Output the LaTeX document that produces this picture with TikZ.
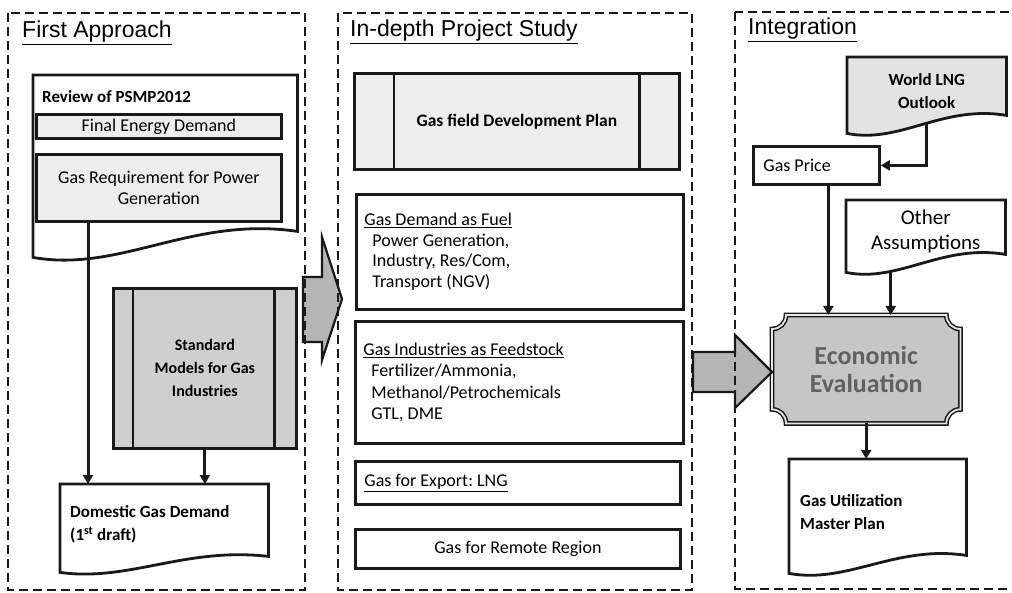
\documentclass[tikz,border=0pt]{standalone}
\usepackage{fontspec}
\setmainfont{Carlito}
\newfontfamily\headfont{Liberation Sans}
\usetikzlibrary{arrows.meta, calc, backgrounds}

\tikzset{
  panel/.style={draw=black!90, line width=2.8pt, dash pattern=on 9pt off 5pt},
  head/.style={anchor=base west, inner sep=0pt, font=\headfont\fontsize{23}{26}\selectfont},
  box/.style={draw=black!90, line width=2.8pt, fill=white, inner xsep=8pt, inner ysep=0pt, font=\fontsize{18}{20.5}\selectfont},
  shade/.style={box, fill=gray!14},
  doc/.style={anchor=north west, inner sep=0pt, font=\bfseries\fontsize{17}{23}\selectfont},
  flow/.style={draw=black!90, line width=3pt, -{Triangle[length=9pt, width=10pt]}},
  bigarrow/.style={draw=black!90, line width=2.2pt, fill=gray!58},
}

\begin{document}
\frenchspacing
\begin{tikzpicture}[x=1pt, y=-1pt]
  \useasboundingbox (0,0) rectangle (1012,593);

  % block arrows between the stages
  \draw[bigarrow] (303,277) -- (322,277) -- (322,237) -- (342,299) -- (322,360) -- (322,342) -- (303,342) -- cycle;
  \draw[bigarrow] (693,352) -- (735,352) -- (735,335) -- (772,372) -- (735,408) -- (735,392) -- (693,392) -- cycle;

  % stage frames
  \draw[panel] (8,13) rectangle (305,590);
  \draw[panel] (338,13) rectangle (692,590);
  \draw[panel] (735,12) rectangle (1016,589);

  \node[head] (t1) at (22,38) {\underline{First Approach}};
  \node[head] (t2) at (350,37) {\underline{In-depth Project Study}};
  \node[head] (t3) at (748,35) {\underline{Integration}};

  % first approach
  \node[anchor=north west, minimum width=264, minimum height=169, inner sep=0pt] (rev) at (33,75) {};
  \node[anchor=west, inner sep=0pt, font=\bfseries\fontsize{17}{20}\selectfont] (revt) at (42,97) {Review of PSMP2012};
  \node[shade, anchor=north west, minimum width=245, minimum height=24] (fed) at (35,113) {Final Energy Demand};
  \node[shade, anchor=north west, minimum width=245, minimum height=67, align=center] (greq) at (35,153) {Gas Requirement for Power\\Generation};
  \node[box, fill=gray!38, anchor=north west, minimum width=183, minimum height=160, align=center, font=\bfseries\fontsize{16}{23}\selectfont] (stdm) at (112,287) {Standard\\Models for Gas\\Industries};
  \draw[draw=black!90, line width=2.8pt] ([xshift=21pt]stdm.north west) -- ([xshift=21pt]stdm.south west);
  \draw[draw=black!90, line width=2.8pt] ([xshift=-23pt]stdm.north east) -- ([xshift=-23pt]stdm.south east);
  \node[doc, minimum width=208, minimum height=80, text width=188, inner xsep=10pt, align=flush left] (dom) at (60,484) {Domestic Gas Demand\\(1\textsuperscript{st} draft)};

  % in-depth project study
  \node[shade, anchor=north west, minimum width=325, minimum height=96, font=\bfseries\fontsize{17.5}{20}\selectfont] (gfdp) at (353,72) {Gas field Development Plan};
  \draw[draw=black!90, line width=2.8pt] ([xshift=41pt]gfdp.north west) -- ([xshift=41pt]gfdp.south west);
  \draw[draw=black!90, line width=2.8pt] ([xshift=-41pt]gfdp.north east) -- ([xshift=-41pt]gfdp.south east);
  \node[box, anchor=north west, minimum width=327, minimum height=115, text width=311, align=flush left] (fuel) at (355,193)
    {\underline{Gas Demand as Fuel}\\\hspace*{8pt}Power Generation,\\\hspace*{8pt}Industry, Res/Com,\\\hspace*{8pt}Transport (NGV)};
  \node[box, anchor=north west, minimum width=328, minimum height=122, text width=312, align=flush left, font=\fontsize{18}{21.5}\selectfont] (feed) at (354,320)
    {\underline{Gas Industries as Feedstock}\\\hspace*{8pt}Fertilizer/Ammonia,\\\hspace*{8pt}Methanol/Petrochemicals\\\hspace*{8pt}GTL, DME};
  \node[box, anchor=north west, minimum width=325, minimum height=43, text width=307, inner xsep=9pt, align=flush left] (exp) at (354,460) {\underline{Gas for Export: LNG}};
  \node[box, anchor=north west, minimum width=325, minimum height=39] (remote) at (354,528) {Gas for Remote Region};

  % integration
  \node[doc, minimum width=159, minimum height=67, align=center] (world) at (847,57) {World LNG\\Outlook};
  \node[box, anchor=north west, minimum width=126, minimum height=38, text width=106, inner xsep=10pt, align=flush left] (gprice) at (752,145) {Gas Price};
  \node[doc, minimum width=159, minimum height=63, align=center, font=\fontsize{21}{25}\selectfont] (other) at (846,200) {Other\\Assumptions};
  \node[anchor=north west, minimum width=188, minimum height=108, inner sep=0pt, align=center, text=black!62, font=\bfseries\fontsize{26}{28}\selectfont] (econ) at (772,315) {Economic\\Evaluation};
  \node[doc, minimum width=177, minimum height=105, text width=155, inner xsep=11pt, align=flush left] (gump) at (789,459) {Gas Utilization\\Master Plan};

  \begin{scope}[on background layer]
    \foreach \n/\a/\f in {rev/13/white, dom/8/white, world/9/gray!22, other/9/white, gump/9/white}
      \draw[draw=black!90, line width=2.8pt, fill=\f] (\n.north west) -- (\n.north east) -- ($(\n.south east)+(0,-\a)$)
        .. controls ($(\n.south west)!0.6!(\n.south east)+(0,-2.2*\a)$) and ($(\n.south west)!0.33!(\n.south east)+(0,2.2*\a)$) .. ($(\n.south west)+(0,\a)$) -- cycle;
    \draw[draw=black!90, line width=1.5pt, double=gray!20, double distance=1.8pt, fill=gray!45]
      ($(econ.north west)+(14,0)$) -- ($(econ.north east)+(-14,0)$)
      .. controls ($(econ.north east)+(-14,8)$) and ($(econ.north east)+(-8,14)$) .. ($(econ.north east)+(0,14)$)
      -- ($(econ.south east)+(0,-14)$)
      .. controls ($(econ.south east)+(-8,-14)$) and ($(econ.south east)+(-14,-8)$) .. ($(econ.south east)+(-14,0)$)
      -- ($(econ.south west)+(14,0)$)
      .. controls ($(econ.south west)+(14,-8)$) and ($(econ.south west)+(8,-14)$) .. ($(econ.south west)+(0,-14)$)
      -- ($(econ.north west)+(0,14)$)
      .. controls ($(econ.north west)+(8,14)$) and ($(econ.north west)+(14,8)$) .. ($(econ.north west)+(14,0)$) -- cycle;
  \end{scope}

  % connectors
  \draw[flow] ([xshift=53pt]greq.south west) -- ([xshift=28pt]dom.north west);
  \draw[flow] (stdm.south) -- (stdm.south |- dom.north);
  \draw[flow] (world.south) |- (gprice.east);
  \coordinate (gpx) at ([xshift=12pt]gprice.south);
  \draw[flow] (gpx) -- (gpx |- econ.north);
  \coordinate (oax) at ([xshift=-35pt, yshift=-9pt]other.south);
  \draw[flow] (oax) -- (oax |- econ.north);
  \draw[flow] (econ.south) -- (econ.south |- gump.north);
\end{tikzpicture}
\end{document}
